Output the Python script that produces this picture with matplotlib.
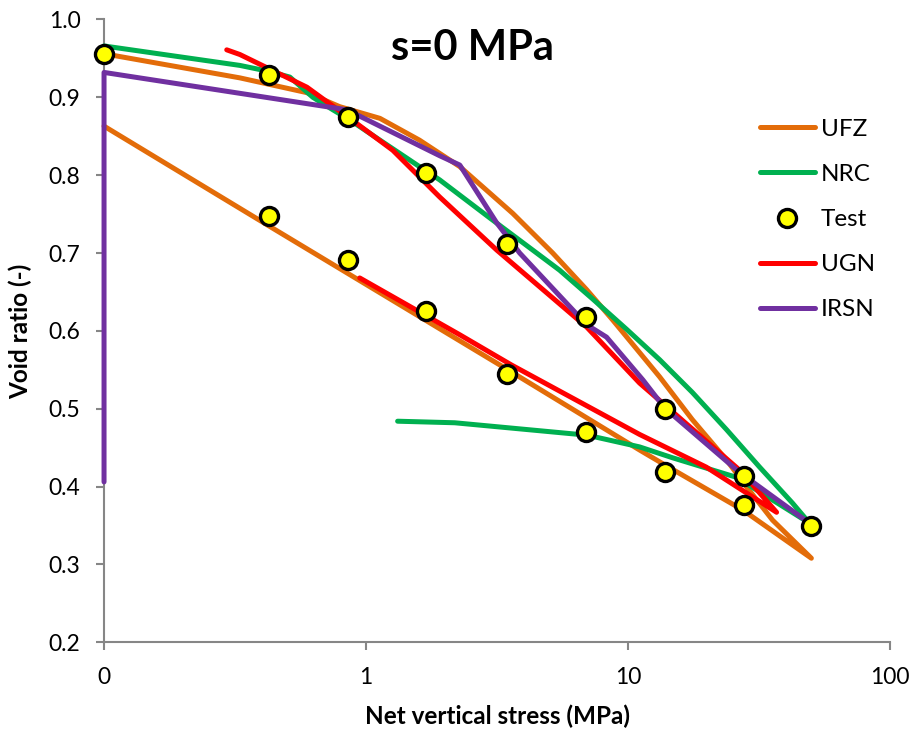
import matplotlib
matplotlib.use("Agg")
import matplotlib.pyplot as plt
from matplotlib.ticker import FixedLocator, FixedFormatter

plt.rcParams['font.family'] = ['Lato', 'DejaVu Sans']

# test results, loading then unloading
test_s = [0.1, 0.425, 0.85, 1.7, 3.44, 6.9, 13.8, 27.6, 50, 27.6, 13.8, 6.9, 3.44, 1.7, 0.85, 0.425]
test_e = [0.956, 0.929, 0.875, 0.803, 0.712, 0.618, 0.500, 0.414, 0.349,
          0.376, 0.419, 0.470, 0.545, 0.626, 0.691, 0.748]

# UFZ model
ufz_s = [0.1, 0.33, 0.595, 0.794, 1.13, 1.6, 2.28, 3.63, 5.16, 6.95, 8.74, 13.2, 17.6, 23.8, 28.3, 35.6, 50.1,
         27.4, 13.8, 11.07, 3.44, 0.43, 0.1]
ufz_e = [0.956, 0.925, 0.906, 0.888, 0.873, 0.845, 0.811, 0.751, 0.700, 0.653, 0.614, 0.541, 0.486, 0.434, 0.400, 0.357, 0.308,
         0.370, 0.428, 0.447, 0.551, 0.734, 0.863]

# NRC model
nrc_s = [0.1, 0.33, 0.43, 0.512, 0.627, 0.747, 0.867, 1.13, 1.6, 1.91, 2.97, 5.48, 7.33, 9.88, 13.2, 17.6, 23.8, 31.8, 42.4, 49.3,
         25.9, 14.8, 11.07, 7.0, 2.18, 1.32]
nrc_e = [0.966, 0.941, 0.933, 0.926, 0.900, 0.884, 0.871, 0.845, 0.811, 0.794, 0.745, 0.678, 0.641, 0.602, 0.563, 0.521, 0.473, 0.425, 0.379, 0.353,
         0.412, 0.437, 0.451, 0.466, 0.482, 0.484]

# UGN model
ugn_s = [0.294, 0.33, 0.595, 0.867, 1.265, 1.91, 3.15, 6.95, 11.07, 26.7, 36.9,
         19.9, 11.07, 3.6, 2.28, 0.946]
ugn_e = [0.961, 0.955, 0.913, 0.873, 0.832, 0.772, 0.704, 0.605, 0.533, 0.421, 0.367,
         0.425, 0.467, 0.556, 0.595, 0.668]

# IRSN model
irsn_s = [0.1, 0.1, 0.845, 1.91, 2.28, 3.15, 3.86, 6.95, 8.28, 11.4, 13.8, 26.7, 49.3]
irsn_e = [0.406, 0.932, 0.884, 0.825, 0.813, 0.739, 0.700, 0.608, 0.592, 0.537, 0.501, 0.418, 0.353]

x_ticks = [0.1, 1, 10, 100]
x_labels = ['0', '1', '10', '100']
y_ticks = [0.2, 0.3, 0.4, 0.5, 0.6, 0.7, 0.8, 0.9, 1.0]

fig = plt.figure(figsize=(9.15, 7.35), dpi=100)
ax = fig.add_axes([0.1137, 0.1261, 0.859, 0.8474])

style = dict(lw=3.6, solid_joinstyle='round', solid_capstyle='round', clip_on=False, zorder=3)
ax.plot(ufz_s, ufz_e, color='#E36C09', label='UFZ', **style)
ax.plot(nrc_s, nrc_e, color='#00B050', label='NRC', **style)
ax.plot(test_s, test_e, ls='none', marker='o', ms=13, mfc='#FFFF00', mec='black', mew=2.4,
        label='Test', zorder=5, clip_on=False)
ax.plot(ugn_s, ugn_e, color='#FF0000', label='UGN', **style)
ax.plot(irsn_s, irsn_e, color='#7030A0', label='IRSN', **style)

ax.set_xscale('log')
ax.set_xlim(0.1, 100)
ax.set_ylim(0.2, 1.0)
ax.xaxis.set_major_locator(FixedLocator(x_ticks))
ax.xaxis.set_major_formatter(FixedFormatter(x_labels))
ax.xaxis.set_minor_locator(FixedLocator([]))
ax.set_yticks(y_ticks)
ax.set_yticklabels(['%.1f' % v for v in y_ticks])

for side in ['top', 'right']:
    ax.spines[side].set_visible(False)
for side in ['left', 'bottom']:
    ax.spines[side].set_color('#868686')
    ax.spines[side].set_linewidth(1.5)
ax.tick_params(axis='both', direction='out', length=6, width=1.5, color='#868686',
               labelsize=16.5, labelcolor='black')
ax.tick_params(axis='y', pad=11)
ax.tick_params(axis='x', pad=12)

ax.set_xlabel('Net vertical stress (MPa)', fontsize=17.5, fontweight='bold', labelpad=12)
ax.set_ylabel('Void ratio (-)', fontsize=17.5, fontweight='bold', labelpad=12)
ax.text(0.469, 0.954, 's=0 MPa', transform=ax.transAxes, ha='center', va='center',
        fontsize=30, fontweight='bold')

ax.legend(loc='upper left', bbox_to_anchor=(0.822, 0.856), frameon=False, fontsize=17.5,
          handlelength=2.26, handletextpad=0.25, labelspacing=0.99, borderaxespad=0)

fig.savefig('out.png', dpi=100)
